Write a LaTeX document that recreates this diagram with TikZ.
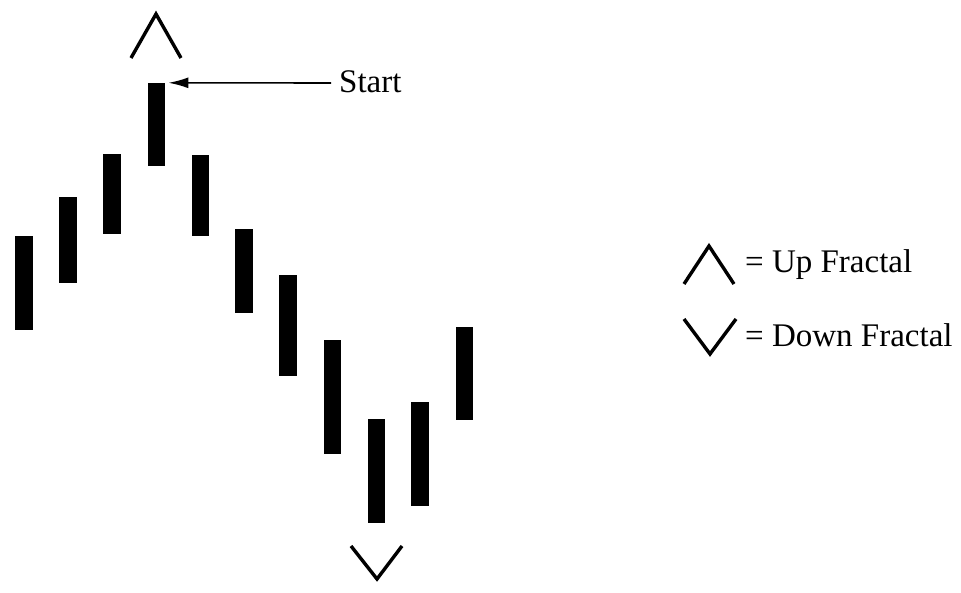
\documentclass[tikz,border=0pt]{standalone}
\usepackage{fontspec}
\setmainfont{Liberation Serif}
\usetikzlibrary{arrows.meta}
\begin{document}
\begin{tikzpicture}[x=1pt,y=-1pt,
  bar/.style={fill=black,draw=none,inner sep=0pt,minimum width=17.5pt},
  chev/.style={line width=3.4pt,line join=miter,line cap=butt},
  lbl/.style={inner sep=0pt,anchor=base west,font=\fontsize{33}{40}\selectfont},
  pointer/.style={line width=1.6pt,-{Latex[length=20pt,width=11pt]}}]
\useasboundingbox (0,0) rectangle (961,593);
% bars
\node[bar,minimum height=94pt]  (b1)  at (24,283) {};
\node[bar,minimum height=86pt]  (b2)  at (68,240) {};
\node[bar,minimum height=80pt]  (b3)  at (112,194) {};
\node[bar,minimum height=83pt]  (b4)  at (156.5,124.5) {};
\node[bar,minimum height=81pt]  (b5)  at (200.5,195.5) {};
\node[bar,minimum height=84pt]  (b6)  at (244,271) {};
\node[bar,minimum height=101pt] (b7)  at (288,325.5) {};
\node[bar,minimum height=114pt] (b8)  at (332.5,397) {};
\node[bar,minimum height=104pt] (b9)  at (376.5,471) {};
\node[bar,minimum height=104pt] (b10) at (420,454) {};
\node[bar,minimum height=93pt]  (b11) at (464.5,373.5) {};
% fractal marks
\draw[chev] (131,58) -- (156,14) -- (181,58);
\draw[chev] (351,546) -- (377,579) -- (402,546);
% start label and arrow
\node[lbl] (start) at (339,93) {Start};
\coordinate (tail) at (331,83);
\draw[pointer] (tail) -- ([xshift=3pt]b4.north east);
% legend
\draw[chev] (684,284) -- (709,246) -- (734,284);
\node[lbl] (up) at (745,273) {= Up Fractal};
\draw[chev] (684,319) -- (710,354) -- (736,319);
\node[lbl] (down) at (745,347) {= Down Fractal};
\end{tikzpicture}
\end{document}
